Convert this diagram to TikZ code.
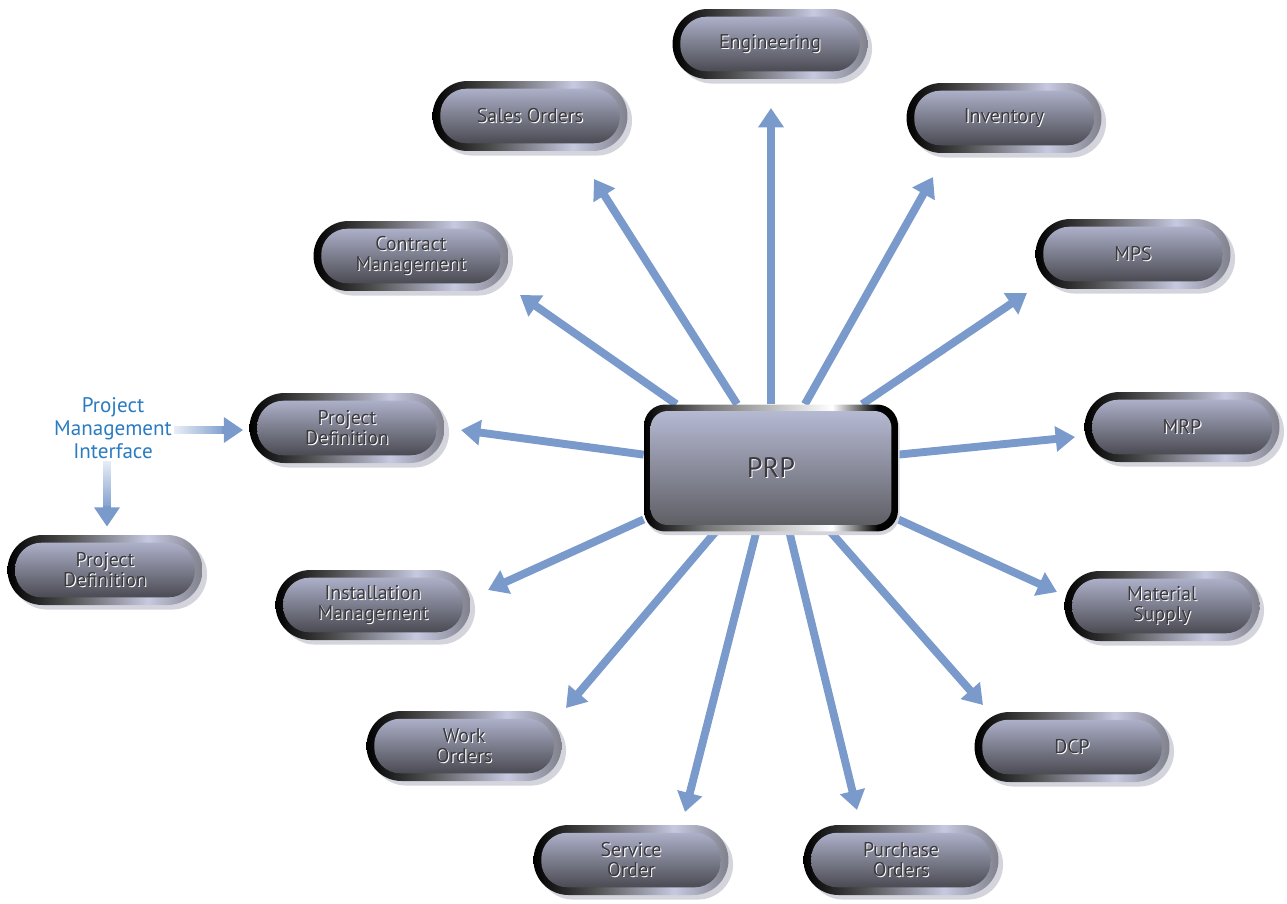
\documentclass[tikz,border=0pt]{standalone}
\usepackage{fontspec}
\setmainfont{PT Sans}
\usetikzlibrary{arrows.meta,calc,shapes.misc,fadings,backgrounds}

\definecolor{linkblue}{HTML}{7A9ACC}
\definecolor{pmiblue}{HTML}{2B7BC0}
\definecolor{facetop}{HTML}{BABED8}
\definecolor{facemid}{HTML}{90919C}
\definecolor{facebot}{HTML}{3C3C42}
\definecolor{rimlight}{HTML}{C6C9E0}
\definecolor{rimgray}{HTML}{80818C}
\definecolor{shadowgray}{HTML}{D4D5DC}
\definecolor{pilltext}{HTML}{3A3A3E}

\pgfdeclarehorizontalshading{pillrim}{100bp}{color(0bp)=(black); color(25bp)=(black);
  color(40bp)=(black!70); color(61bp)=(rimlight); color(75bp)=(rimgray); color(100bp)=(rimgray)}
\pgfdeclarehorizontalshading{boxrim}{100bp}{color(0bp)=(black); color(25bp)=(black);
  color(37bp)=(black!55); color(62bp)=(white); color(71bp)=(black); color(100bp)=(black)}

\tikzfading[name=fadeeast, left color=transparent!90, right color=transparent!0]
\tikzfading[name=fadesouth, top color=transparent!90, bottom color=transparent!0]

\newcommand{\etch}[1]{\leavevmode\rlap{\kern0.6pt\raisebox{-0.6pt}{\color{white}#1}}#1}

\begin{document}
\begin{tikzpicture}[x=0.02cm, y=-0.02cm,
    pill/.style={rounded rectangle, minimum width=3.9cm, minimum height=1.4cm, inner sep=0pt,
                 align=center, font=\fontsize{11.3}{11.5}\selectfont, text=pilltext, shade, shading=pillrim,
                 preaction={fill=shadowgray, transform canvas={xshift=2.6pt, yshift=-2.6pt}},
                 path picture={\shade[top color=facetop, middle color=facemid, bottom color=facebot, rounded corners=0.52cm]
                   ([shift={(4.4pt,-4.4pt)}]path picture bounding box.north west) rectangle
                   ([shift={(-4.4pt,4.4pt)}]path picture bounding box.south east);}},
    hub/.style={rectangle, rounded corners=0.42cm, minimum width=5.08cm, minimum height=2.54cm, inner sep=0pt,
                font=\fontsize{16}{16}\selectfont, text=pilltext, shade, shading=boxrim,
                preaction={fill=shadowgray, transform canvas={xshift=1pt, yshift=-2pt}},
                path picture={\shade[top color=facetop, middle color=facemid, bottom color=facebot!85!white, rounded corners=0.34cm]
                   ([shift={(3.7pt,-3.7pt)}]path picture bounding box.north west) rectangle
                   ([shift={(-3.7pt,3.7pt)}]path picture bounding box.south east);}},
    link/.style={draw=linkblue, line width=4.5pt, -{Triangle[length=11pt, width=14pt]}},
    fadelink/.style={draw=linkblue, line width=5pt},
    pmi/.style={align=center, text=pmiblue, inner sep=1pt, font=\fontsize{12}{13}\selectfont}]

\useasboundingbox (0,0) rectangle (1287,903);

\node[hub] (prp) at (771,468) {\etch{PRP}}; % hub

\node[pill] (eng)      at (770,44)   {\etch{Engineering}};
\node[pill] (sales)    at (530,116)  {\etch{Sales Orders}};
\node[pill] (inv)      at (1004,118) {\etch{Inventory}};
\node[pill] (contract) at (411,256)  {\etch{Contract}\\\etch{Management}};
\node[pill] (mps)      at (1133,254) {\etch{MPS}};
\node[pill] (projdef)  at (347,428)  {\etch{Project}\\\etch{Definition}};
\node[pill] (mrp)      at (1182,427) {\etch{MRP}};
\node[pill] (install)  at (373,605)  {\etch{Installation}\\\etch{Management}};
\node[pill] (matsup)   at (1162,606) {\etch{Material}\\\etch{Supply}};
\node[pill] (work)     at (464,746)  {\etch{Work}\\\etch{Orders}};
\node[pill] (dcp)      at (1072,747) {\etch{DCP}};
\node[pill] (service)  at (631,860)  {\etch{Service}\\\etch{Order}};
\node[pill] (purchase) at (901,860)  {\etch{Purchase}\\\etch{Orders}};

\node[pill] (pdefleft) at (105,570)  {\etch{Project}\\\etch{Definition}};
\node[pmi]  (pmiface)  at (113,428)  {Project\\Management\\Interface};

\begin{scope}[on background layer]
\draw[link] (prp.90)  -- ($(eng)+(1,64)$);
\draw[link] (prp.118) -- ($(sales)+(64,63)$);
\draw[link] (prp.62)  -- ($(inv)+(-71,59)$);
\draw[link] (prp.146) -- ($(contract)+(109,39)$);
\draw[link] (prp.35)  -- ($(mps)+(-106,39)$);
\draw[link] (prp.174) -- ($(projdef)+(114,2)$);
\draw[link] (prp.6)   -- ($(mrp)+(-107,10)$);
\draw[link] (prp.202) -- ($(install)+(115,-15)$);
\draw[link] (prp.338) -- ($(matsup)+(-105,-14)$);
\draw[link] (prp.229) -- ($(work)+(102,-38)$);
\draw[link] (prp.313) -- ($(dcp)+(-89,-42)$);
\draw[link] (prp.257) -- ($(service)+(54,-48)$);
\draw[link] (prp.286) -- ($(purchase)+(-44,-50)$);
\end{scope}

% interface arrows, faded shaft then solid head
\coordinate (pmitipA) at ($(projdef.west)+(-6,2)$);
\coordinate (pmitipB) at ($(pmiface.south |- pdefleft.north)+(-6,-8)$);
\draw[fadelink, path fading=fadeeast] ($(pmiface.east)+(0,2)$) -- ($(pmitipA)+(-20,0)$);
\draw[link, line width=5pt] ($(pmitipA)+(-21,0)$) -- (pmitipA);
\draw[fadelink, path fading=fadesouth] ($(pmiface.south)+(-6,0)$) -- ($(pmitipB)+(0,-20)$);
\draw[link, line width=5pt] ($(pmitipB)+(0,-21)$) -- (pmitipB);
\end{tikzpicture}
\end{document}
